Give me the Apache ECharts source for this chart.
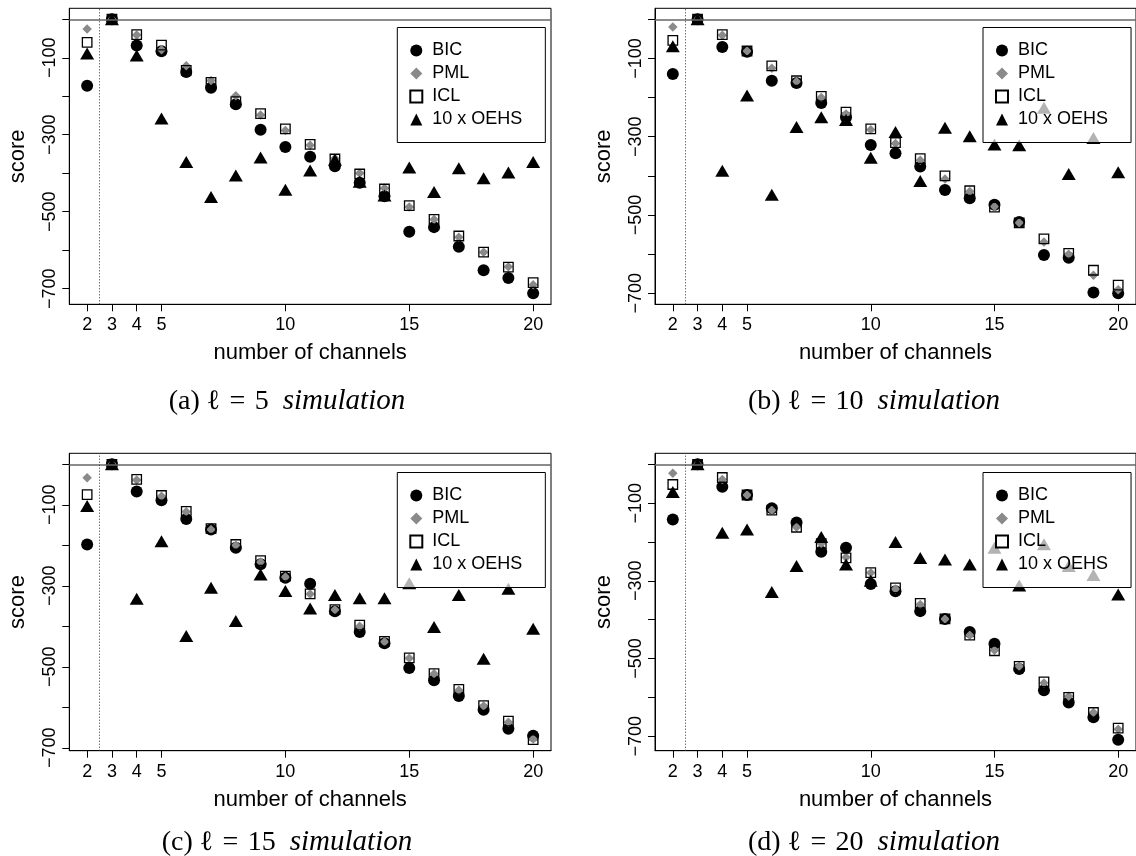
<!DOCTYPE html>
<html><head><meta charset="utf-8">
<script src="https://cdn.jsdelivr.net/npm/echarts@6/dist/echarts.min.js"></script>
<style>html,body{margin:0;padding:0;background:#fff}#c{width:1136px;height:856px}</style>
</head><body><div id="c"></div>
<script>
// ---- data ----
const channels = [2,3,4,5,6,7,8,9,10,11,12,13,14,15,16,17,18,19,20];
const seriesNames = ['BIC','PML','ICL','10 x OEHS'];
const xTickValues = [2,3,4,5,10,15,20];
const yTickValues = [-700,-600,-500,-400,-300,-200,-100,0];
const yLabelValues = [-700,-500,-300,-100];
const captionLetters = ['(a)','(b)','(c)','(d)'];
const captionEll = ['5','10','15','20'];

const bicA  = [-173,0,-68,-83,-137,-178,-221,-287,-332,-357,-382,-425,-460,-552,-540,-591,-652,-672,-712];
const pmlA  = [-25,0,-41,-79,-121,-159,-199,-249,-289,-327,-362,-400,-439,-488,-520,-566,-605,-643,-690];
const iclA  = [-60,0,-40,-67,-133,-164,-214,-245,-285,-325,-363,-402,-441,-484,-520,-563,-605,-644,-684];
const oehsA = [-89,0,-94,-258,-371,-462,-406,-359,-443,-393,-365,-422,-458,-385,-449,-387,-413,-398,-371];

const bicB  = [-140,0,-71,-83,-157,-163,-214,-250,-321,-342,-376,-436,-457,-474,-518,-602,-609,-698,-700];
const pmlB  = [-20,0,-41,-81,-125,-159,-200,-242,-282,-317,-360,-408,-440,-478,-520,-569,-600,-654,-691];
const iclB  = [-54,0,-39,-81,-119,-157,-197,-237,-280,-315,-356,-400,-438,-480,-520,-561,-598,-641,-679];
const oehsB = [-69,0,-387,-195,-448,-275,-250,-257,-354,-288,-413,-277,-299,-320,-322,-226,-395,-303,-391];

const bicC  = [-198,0,-67,-89,-135,-161,-206,-247,-280,-295,-363,-414,-442,-503,-533,-572,-606,-653,-670];
const pmlC  = [-33,0,-39,-79,-117,-161,-200,-241,-278,-320,-359,-400,-438,-479,-517,-558,-597,-637,-678];
const iclC  = [-75,0,-37,-77,-116,-159,-198,-238,-276,-320,-359,-397,-437,-478,-517,-556,-596,-634,-680];
const oehsC = [-103,0,-332,-190,-424,-305,-387,-272,-313,-356,-323,-331,-331,-294,-402,-323,-480,-307,-406];

const bicD  = [-142,0,-58,-79,-113,-150,-225,-215,-308,-327,-378,-398,-432,-462,-527,-582,-613,-651,-709];
const pmlD  = [-23,0,-39,-79,-118,-162,-204,-239,-279,-321,-361,-398,-440,-479,-520,-563,-597,-639,-682];
const iclD  = [-52,0,-34,-79,-118,-162,-204,-241,-279,-318,-358,-398,-440,-480,-520,-560,-600,-639,-679];
const oehsD = [-71,0,-176,-168,-329,-262,-187,-258,-300,-200,-241,-245,-258,-215,-312,-206,-262,-285,-335];

const panels = [
  [bicA, pmlA, iclA, oehsA],
  [bicB, pmlB, iclB, oehsB],
  [bicC, pmlC, iclC, oehsC],
  [bicD, pmlD, iclD, oehsD]
];

// ---- layout / style ----
const gridPos = [
  {left: 69.3, top: 8.3, width: 481.7, height: 296},
  {left: 655, top: 8.3, width: 481.7, height: 296},
  {left: 69.3, top: 453.3, width: 481.7, height: 297.4},
  {left: 655, top: 453.3, width: 481.7, height: 297.4}
];
const legendPos = [
  {left: 397.3, top: 27.5},
  {left: 983, top: 27.5},
  {left: 397.3, top: 472.5},
  {left: 983, top: 472.5}
];
const captionPos = [
  {left: 282, top: 382},
  {left: 869, top: 382},
  {left: 282, top: 823},
  {left: 869, top: 823}
];
const SANS = 'Liberation Sans, Arial, Helvetica, sans-serif';
const SERIF = 'Liberation Serif, DejaVu Serif, serif';

const seriesStyle = [
  {symbol: 'circle', symbolSize: 12, itemStyle: {color: '#000', opacity: 1}},
  {symbol: 'diamond', symbolSize: 9.5, itemStyle: {color: '#8a8a8a', opacity: 1}},
  {symbol: 'rect', symbolSize: 9.5, itemStyle: {color: 'rgba(0,0,0,0)', borderColor: '#000', borderWidth: 1.3, opacity: 1}},
  {symbol: 'triangle', symbolSize: [14, 12], itemStyle: {color: '#000', opacity: 1}}
];

const grid = [], xAxis = [], yAxis = [], series = [], legend = [], title = [];

panels.forEach((pan, p) => {
  grid.push(Object.assign({show: true, borderColor: '#000', borderWidth: 1, containLabel: false}, gridPos[p]));
  let lo = Infinity, hi = -Infinity;
  pan.forEach(a => a.forEach(v => { lo = Math.min(lo, v); hi = Math.max(hi, v); }));
  const pad = 0.04 * (hi - lo);
  xAxis.push({
    type: 'value', gridIndex: p, min: 1.28, max: 20.72,
    name: 'number of channels', nameLocation: 'middle', nameGap: 38,
    nameTextStyle: {fontFamily: SANS, fontSize: 22, color: '#000'},
    axisLine: {show: true, onZero: false, lineStyle: {color: '#000', width: 1}},
    axisTick: {show: true, length: 7, customValues: xTickValues, lineStyle: {color: '#000'}},
    axisLabel: {show: true, customValues: xTickValues, margin: 12, fontFamily: SANS, fontSize: 18, color: '#000'},
    splitLine: {show: false}
  });
  yAxis.push({
    type: 'value', gridIndex: p, min: lo - pad, max: hi + pad,
    name: 'score', nameLocation: 'middle', nameGap: 40, nameRotate: 90,
    nameTextStyle: {fontFamily: SANS, fontSize: 22, color: '#000'},
    axisLine: {show: true, onZero: false, lineStyle: {color: '#000', width: 1}},
    axisTick: {show: true, length: 7, customValues: yTickValues, lineStyle: {color: '#000'}},
    axisLabel: {show: true, customValues: yLabelValues, rotate: 90, margin: 10,
      fontFamily: SANS, fontSize: 18, color: '#000',
      formatter: v => String(v).replace('-', '\u2212')},
    splitLine: {show: false}
  });
  pan.forEach((arr, s) => {
    const ser = Object.assign({
      type: 'scatter', name: seriesNames[s], xAxisIndex: p, yAxisIndex: p,
      data: channels.map((c, i) => [c, arr[i]]),
      silent: true, animation: false
    }, seriesStyle[s]);
    if (s === 0) {
      ser.markLine = {
        silent: true, symbol: 'none', label: {show: false}, animation: false,
        data: [
          {yAxis: 0, lineStyle: {color: '#666', width: 1.6, type: 'solid'}},
          {xAxis: 2.5, lineStyle: {color: '#333', width: 1, type: [1, 2]}}
        ]
      };
    }
    series.push(ser);
  });
  legend.push(Object.assign({
    orient: 'vertical', data: seriesNames, selectedMode: false,
    padding: [14, 23, 14, 12], itemGap: 5, itemWidth: 12, itemHeight: 12,
    symbolKeepAspect: true,
    backgroundColor: 'rgba(255,255,255,0.7)', borderColor: '#000', borderWidth: 1, borderRadius: 0,
    textStyle: {fontFamily: SANS, fontSize: 18, color: '#000', padding: [0, 0, 0, 5]}
  }, legendPos[p]));
  title.push(Object.assign({
    text: '{n|' + captionLetters[p] + ' }{m|\u2113\u2004=\u2004' + captionEll[p] + '}{i|simulation}',
    textAlign: 'center',
    textStyle: {
      fontWeight: 'normal',
      rich: {
        n: {fontFamily: SERIF, fontSize: 28, fontWeight: 'normal', color: '#000'},
        m: {fontFamily: SERIF, fontSize: 28, fontWeight: 'normal', color: '#000'},
        i: {fontFamily: SERIF, fontSize: 29, fontWeight: 'normal', fontStyle: 'italic', color: '#000', padding: [0, 0, 0, 14]}
      }
    }
  }, captionPos[p]));
});

const chart = echarts.init(document.getElementById('c'), null, {renderer: 'canvas'});
chart.setOption({animation: false, backgroundColor: '#fff', grid, xAxis, yAxis, series, legend, title});
</script>
</body></html>
